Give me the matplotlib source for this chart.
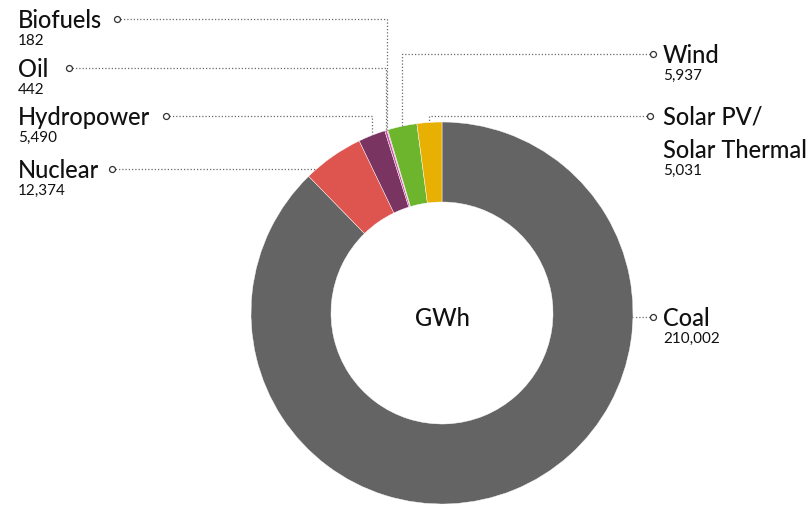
import numpy as np
import matplotlib.pyplot as plt

# data
sources = ["Coal", "Nuclear", "Hydropower", "Oil", "Biofuels", "Wind", "Solar PV/\nSolar Thermal"]
gwh = [210002, 12374, 5490, 442, 182, 5937, 5031]
colors = ["#646464", "#DE5550", "#7A3461", "#C552A5", "#E07BB5", "#6CB52D", "#E9B004"]
center_label = "GWh"

# label layout in pixels: side, title y, dot x
label_pos = {
    "Coal": ("R", 318, 653),
    "Nuclear": ("L", 170, 112),
    "Hydropower": ("L", 117, 166),
    "Oil": ("L", 69, 69),
    "Biofuels": ("L", 20, 117),
    "Wind": ("R", 55, 653),
    "Solar PV/\nSolar Thermal": ("R", 117, 650),
}

W, H = 809, 506
CX, CY = 442, 314
R, R_IN = 191, 111
FONT = "Lato"

def ypx(p):
    return H - p

fig = plt.figure(figsize=(W / 100, H / 100), dpi=100)
ax = fig.add_axes([0, 0, 1, 1])

wedges, _ = ax.pie(gwh, colors=colors, startangle=90, counterclock=False,
                   center=(CX, ypx(CY)), radius=R,
                   wedgeprops=dict(width=R - R_IN, edgecolor="white", linewidth=0.3))
ax.set_xlim(0, W)
ax.set_ylim(0, H)
ax.set_aspect("equal")
ax.axis("off")

ax.text(CX, ypx(CY + 4), center_label, ha="center", va="center",
        fontsize=17, family=FONT, weight="medium", color="#111111")


def in_wedge(a, w):
    return (a - w.theta1) % 360 <= (w.theta2 - w.theta1)


for name, val, w in zip(sources, gwh, wedges):
    side, ly, dx = label_pos[name]
    yl = ypx(ly)
    cy = ypx(CY)
    pts = None
    dy = yl - cy
    if abs(dy) < R:
        ex = CX + (np.sqrt(R**2 - dy**2) if side == "R" else -np.sqrt(R**2 - dy**2))
        a = np.degrees(np.arctan2(dy, ex - CX))
        if in_wedge(a, w):
            pts = [(dx, yl), (ex, yl)]
    if pts is None:
        m = np.radians((w.theta1 + w.theta2) / 2)
        axp = CX + R * np.cos(m)
        ayp = cy + R * np.sin(m)
        pts = [(dx, yl), (axp, yl), (axp, ayp)]
    xs, ys = zip(*pts)
    ax.plot(xs, ys, color="#6a6a6a", lw=0.9, ls=(0, (1, 1.6)), zorder=1)
    ax.plot(dx, yl, "o", ms=4.3, mfc="white", mec="#333333", mew=0.9, zorder=3)

    tx = 18 if side == "L" else 663
    lines = name.split("\n")
    for i, ln in enumerate(lines):
        ax.text(tx, ypx(ly + 33 * i), ln, ha="left", va="center",
                fontsize=17, family=FONT, weight="medium", color="#111111")
    last = ly + 33 * (len(lines) - 1)
    ax.text(tx, ypx(last + 21), f"{val:,}", ha="left", va="center",
            fontsize=11, family=FONT, color="#111111")

fig.savefig("out.png", dpi=100)
